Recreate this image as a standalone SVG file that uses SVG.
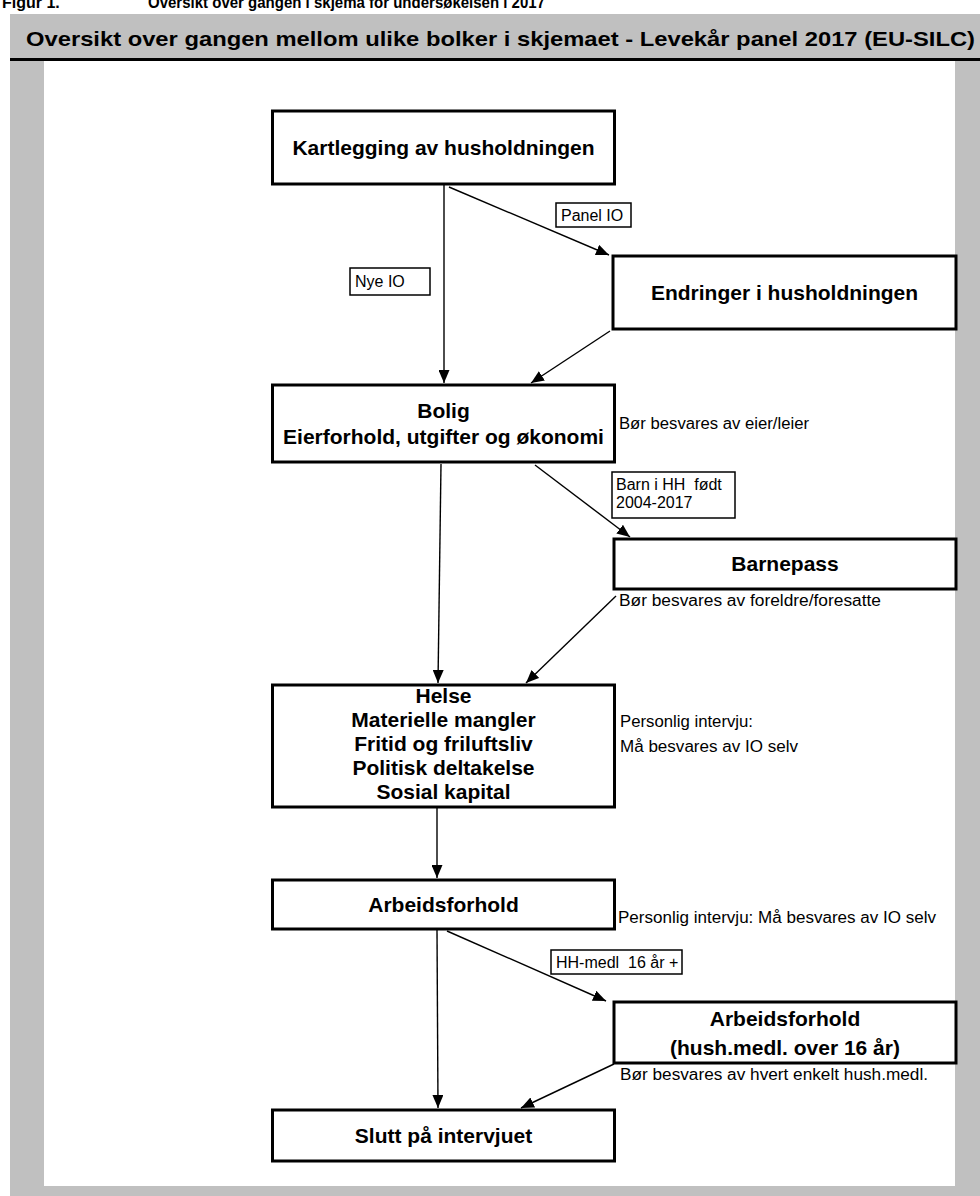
<svg xmlns="http://www.w3.org/2000/svg" width="980" height="1196" viewBox="0 0 980 1196">
<style>
.box{fill:#fff;stroke:#000;stroke-width:3}
.lbox{fill:#fff;stroke:#000;stroke-width:1.5}
.nt{font-family:"Liberation Sans",Arial,sans-serif;font-weight:bold;font-size:21px;fill:#000;text-anchor:middle}
.lt{font-family:"Liberation Sans",Arial,sans-serif;font-size:16px;fill:#000;white-space:pre}
.hd{font-family:"Liberation Sans",Arial,sans-serif;font-weight:bold;fill:#000}
.con line{stroke:#000;stroke-width:1.4;marker-end:url(#ah)}
</style>
<defs>
<marker id="ah" viewBox="0 0 13 11" refX="13" refY="5.5" markerWidth="13" markerHeight="11" markerUnits="userSpaceOnUse" orient="auto"><path d="M0,0 L13,5.5 L0,11 z" fill="#000"/></marker>
</defs>
<text class="hd" x="2" y="8" font-size="16">Figur 1.</text>
<text class="hd" x="148" y="8" font-size="16" textLength="397" lengthAdjust="spacingAndGlyphs">Oversikt over gangen i skjema for undersøkelsen i 2017</text>
<rect x="10" y="14" width="970" height="1182" fill="#c0c0c0"/>
<rect x="44" y="61" width="911" height="1125" fill="#fff"/>
<line x1="10" y1="59.5" x2="980" y2="59.5" stroke="#000" stroke-width="3"/>
<text class="hd" x="26" y="46" font-size="21" textLength="949" lengthAdjust="spacingAndGlyphs">Oversikt over gangen mellom ulike bolker i skjemaet - Levekår panel 2017 (EU-SILC)</text>

<g id="connectors" class="con">
<line x1="444" y1="185" x2="444" y2="383"/>
<line x1="449" y1="187" x2="609" y2="255"/>
<line x1="610" y1="331" x2="531" y2="383"/>
<line x1="441" y1="464" x2="438" y2="683"/>
<line x1="535" y1="465" x2="630" y2="537"/>
<line x1="616" y1="596" x2="526" y2="683"/>
<line x1="437" y1="808" x2="437" y2="878"/>
<line x1="437" y1="930" x2="438" y2="1108"/>
<line x1="447" y1="931" x2="606" y2="1001"/>
<line x1="614" y1="1064" x2="521" y2="1108"/>
</g>

<g id="lbl-panel">
<rect class="lbox" x="556" y="203" width="75" height="24"/>
<text class="lt" x="561" y="221">Panel IO</text>
</g>
<g id="lbl-nye">
<rect class="lbox" x="350" y="268" width="80" height="27"/>
<text class="lt" x="355" y="287">Nye IO</text>
</g>
<g id="lbl-barn">
<rect class="lbox" x="612" y="472" width="123" height="46"/>
<text class="lt" x="616" y="490">Barn i HH  født</text>
<text class="lt" x="616" y="508">2004-2017</text>
</g>
<g id="lbl-hh">
<rect class="lbox" x="551" y="950" width="131" height="24"/>
<text class="lt" x="556" y="968">HH-medl  16 år +</text>
</g>

<g id="n-kartlegging">
<rect class="box" x="272.5" y="111" width="342" height="73"/>
<text class="nt" x="443.5" y="155">Kartlegging av husholdningen</text>
</g>
<g id="n-endringer">
<rect class="box" x="613" y="256" width="343" height="73"/>
<text class="nt" x="784.5" y="300">Endringer i husholdningen</text>
</g>
<g id="n-bolig">
<rect class="box" x="272.5" y="385" width="342" height="77"/>
<text class="nt" x="443.5" y="418">Bolig</text>
<text class="nt" x="443.5" y="444">Eierforhold, utgifter og økonomi</text>
</g>
<text class="lt" x="619" y="429" textLength="190" lengthAdjust="spacingAndGlyphs">Bør besvares av eier/leier</text>
<g id="n-barnepass">
<rect class="box" x="614" y="539" width="342" height="50"/>
<text class="nt" x="785" y="571">Barnepass</text>
</g>
<text class="lt" x="619" y="606" textLength="262" lengthAdjust="spacingAndGlyphs">Bør besvares av foreldre/foresatte</text>
<g id="n-helse">
<rect class="box" x="272.5" y="685" width="342" height="122"/>
<text class="nt" x="443.5" y="703">Helse</text>
<text class="nt" x="443.5" y="727">Materielle mangler</text>
<text class="nt" x="443.5" y="751">Fritid og friluftsliv</text>
<text class="nt" x="443.5" y="775">Politisk deltakelse</text>
<text class="nt" x="443.5" y="799">Sosial kapital</text>
</g>
<text class="lt" x="620" y="727" textLength="133" lengthAdjust="spacingAndGlyphs">Personlig intervju:</text>
<text class="lt" x="620" y="752" textLength="178" lengthAdjust="spacingAndGlyphs">Må besvares av IO selv</text>
<g id="n-arbeid">
<rect class="box" x="272.5" y="880" width="342" height="49"/>
<text class="nt" x="443.5" y="912">Arbeidsforhold</text>
</g>
<text class="lt" x="618" y="923" textLength="318" lengthAdjust="spacingAndGlyphs">Personlig intervju: Må besvares av IO selv</text>
<g id="n-arbeid-hush">
<rect class="box" x="614" y="1002" width="342" height="61"/>
<text class="nt" x="785" y="1026">Arbeidsforhold</text>
<text class="nt" x="785" y="1055">(hush.medl. over 16 år)</text>
</g>
<text class="lt" x="620" y="1080" textLength="308" lengthAdjust="spacingAndGlyphs">Bør besvares av hvert enkelt hush.medl.</text>
<g id="n-slutt">
<rect class="box" x="272.5" y="1110" width="342" height="51"/>
<text class="nt" x="443.5" y="1143">Slutt på intervjuet</text>
</g>
</svg>
